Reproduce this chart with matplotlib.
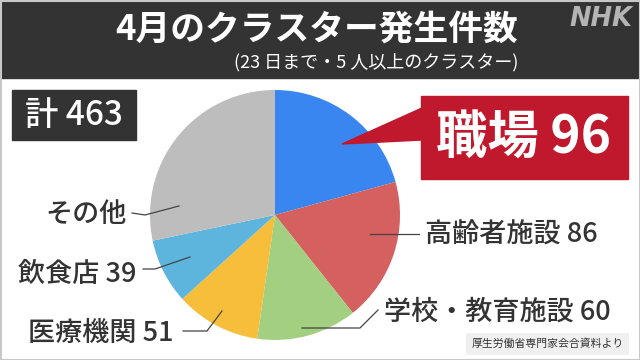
import matplotlib.pyplot as plt
from matplotlib.patches import Rectangle, Polygon

plt.rcParams['font.family'] = ['Noto Sans CJK JP', 'DejaVu Sans']

# data
categories = ["職場", "高齢者施設", "学校・教育施設", "医療機関", "飲食店", "その他"]
counts = [96, 86, 60, 51, 39, 131]
total = 463
colors = ["#3a86f0", "#d56060", "#a3cf80", "#f6be3a", "#5db5dd", "#bdbdbd"]

title = "4月のクラスター発生件数"
subtitle = "(23 日まで・5 人以上のクラスター)"
source = "厚生労働省専門家会合資料より"

W, H = 640, 360
fig = plt.figure(figsize=(6.4, 3.6), dpi=100)
fig.patch.set_facecolor("white")

# pie: centre (275, 215), radius 125 px
cx, cy, r = 275, 215, 125
pie_ax = fig.add_axes([(cx - r) / W, (H - cy - r) / H, 2 * r / W, 2 * r / H])
pie_ax.pie(counts, colors=colors, startangle=90, counterclock=False,
           radius=1, wedgeprops=dict(linewidth=0))
pie_ax.set_xlim(-1, 1)
pie_ax.set_ylim(-1, 1)
pie_ax.axis("off")

# overlay in pixel coordinates
ov = fig.add_axes([0, 0, 1, 1], zorder=5)
ov.set_xlim(0, W)
ov.set_ylim(H, 0)
ov.axis("off")
ov.patch.set_alpha(0)

# header band
ov.add_patch(Rectangle((0, 0), W, 78, color="#333333", zorder=1))
ov.text(317, 29, title, color="white", fontsize=25, fontweight="bold",
        ha="center", va="center", zorder=2)
ov.text(518, 62, subtitle, color="white", fontsize=13, ha="right",
        va="center", zorder=2)
ov.text(601, 19, "NHK", color="#b4b4b4", fontsize=18.5, fontweight="heavy",
        fontstyle="italic", family="DejaVu Sans", ha="center", va="center",
        zorder=2)

# total box
ov.add_patch(Rectangle((12, 90), 124, 50, color="#333333", zorder=1))
ov.text(74, 115, f"計 {total}", color="white", fontsize=24, fontweight="medium",
        ha="center", va="center", zorder=2)

# callout for the largest slice
red = "#c0182d"
ov.add_patch(Polygon([(342, 144), (422, 108), (422, 140)], color=red, zorder=2))
ov.add_patch(Rectangle((421, 96), 207, 83, color=red, zorder=2))
ov.text(524, 138, f"{categories[0]} {counts[0]}", color="white", fontsize=37,
        fontweight="bold", ha="center", va="center", zorder=3)

# labels with leader lines
lab = "#333333"
lfs = 19.5
line_kw = dict(color="#444444", lw=0.9, zorder=3)
ov.plot([370, 419], [234, 234], **line_kw)
ov.text(425, 235, f"{categories[1]} {counts[1]}", color=lab, fontsize=lfs,
        fontweight="medium", ha="left", va="center", zorder=3)

ov.plot([302, 360, 378], [328, 328, 310], **line_kw)
ov.text(384, 312, f"{categories[2]} {counts[2]}", color=lab, fontsize=lfs,
        fontweight="medium", ha="left", va="center", zorder=3)

ov.plot([183, 207, 222], [331, 331, 311], **line_kw)
ov.text(174, 333, f"{categories[3]} {counts[3]}", color=lab, fontsize=lfs,
        fontweight="medium", ha="right", va="center", zorder=3)

ov.plot([143, 155, 190], [269, 269, 257], **line_kw)
ov.text(136, 275, f"{categories[4]} {counts[4]}", color=lab, fontsize=lfs,
        fontweight="medium", ha="right", va="center", zorder=3)

ov.plot([132, 145, 179], [213, 215, 206], **line_kw)
ov.text(127, 214, categories[5], color=lab, fontsize=lfs,
        fontweight="medium", ha="right", va="center", zorder=3)

# source
ov.text(624, 344, source, color="#333333", fontsize=7.8, ha="right",
        va="center", zorder=3,
        bbox=dict(boxstyle="square,pad=0.5", fc="#f0f0f0", ec="none"))

# thin frame
ov.add_patch(Rectangle((0.5, 0.5), W - 1, H - 1, fill=False, ec="#c8c8c8",
                       lw=1.5, zorder=6))

fig.savefig("out.png", dpi=100)
